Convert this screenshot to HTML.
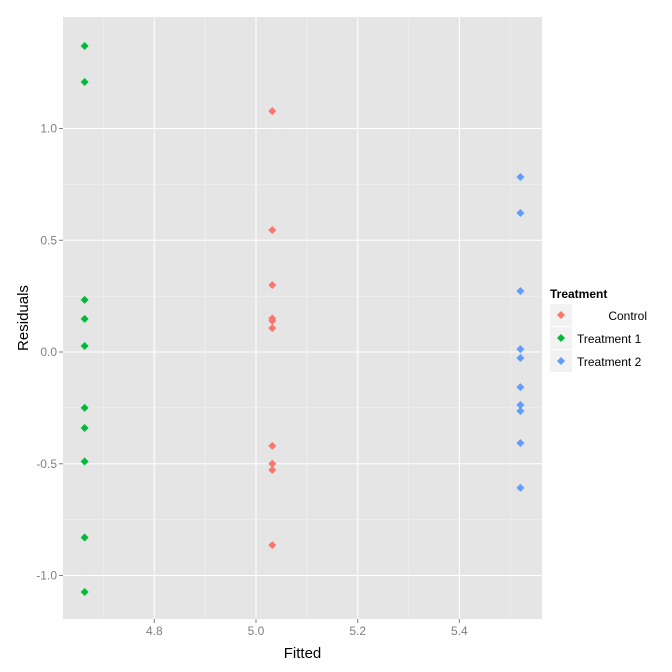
<!DOCTYPE html>
<html><head><meta charset="utf-8"><style>
body{margin:0;background:#fff;}
svg{display:block;font-family:"Liberation Sans",Arial,sans-serif;}
</style></head><body>
<svg id="chart" width="672" height="672" viewBox="0 0 672 672"></svg>
<script>
const xTicks=[4.8,5.0,5.2,5.4];
const xTickLabels=["4.8","5.0","5.2","5.4"];
const yTicks=[-1.0,-0.5,0.0,0.5,1.0];
const yTickLabels=["-1.0","-0.5","0.0","0.5","1.0"];
const seriesNames=["Control","Treatment 1","Treatment 2"];
const seriesColors=["#F8766D","#00BA38","#619CFF"];
const fittedControl=5.032, fittedT1=4.663, fittedT2=5.520;
const residControl=[1.078,0.546,0.30,0.150,0.139,0.107,-0.42,-0.50,-0.528,-0.864];
const residT1=[1.369,1.208,0.233,0.148,0.027,-0.25,-0.34,-0.49,-0.83,-1.074];
const residT2=[0.783,0.622,0.273,0.013,-0.027,-0.157,-0.237,-0.264,-0.407,-0.608];

const NS="http://www.w3.org/2000/svg";
const svg=document.getElementById('chart');
const L=63,R=542,T=17,B=619;
function xs(v){return 256+(v-5.0)/0.2*101.7;}
function ys(v){return 352-v*223.5;}
function mk(tag,attrs,parent){const e=document.createElementNS(NS,tag);for(const k in attrs)e.setAttribute(k,attrs[k]);(parent||svg).appendChild(e);return e;}

const panel=mk('rect',{x:L,y:T,width:R-L,height:B-T,fill:'#E5E5E5'});


for(let i=0;i<xTicks.length-1;i++){const v=(xTicks[i]+xTicks[i+1])/2;const g=mk('line',{x1:xs(v),x2:xs(v),y1:T,y2:B,stroke:'#F2F2F2','stroke-width':0.6});}
for(const v of [4.7,5.5]){const g=mk('line',{x1:xs(v),x2:xs(v),y1:T,y2:B,stroke:'#F2F2F2','stroke-width':0.6});}
for(let i=0;i<yTicks.length-1;i++){const v=(yTicks[i]+yTicks[i+1])/2;const g=mk('line',{x1:L,x2:R,y1:ys(v),y2:ys(v),stroke:'#F2F2F2','stroke-width':0.6});}
xTicks.forEach((v,i)=>{
 const g=mk('line',{x1:xs(v),x2:xs(v),y1:T,y2:B,stroke:'#fff','stroke-width':1.1});
 const t=mk('line',{x1:xs(v),x2:xs(v),y1:B,y2:B+4,stroke:'#7F7F7F'});
 const l=mk('text',{x:xs(v),y:B+16,'text-anchor':'middle','font-size':12,fill:'#7F7F7F'});l.textContent=xTickLabels[i];
});
yTicks.forEach((v,i)=>{
 const g=mk('line',{x1:L,x2:R,y1:ys(v),y2:ys(v),stroke:'#fff','stroke-width':1.1});
 const t=mk('line',{x1:L-4,x2:L,y1:ys(v),y2:ys(v),stroke:'#7F7F7F'});
 const l=mk('text',{x:L-6,y:ys(v)+4,'text-anchor':'end','font-size':12,fill:'#7F7F7F'});l.textContent=yTickLabels[i];
});
function pt(cx,cy,color){return mk('polygon',{points:`${cx},${cy-4} ${cx+4},${cy} ${cx},${cy+4} ${cx-4},${cy}`,fill:color});}
[[fittedControl,residControl,0],[fittedT1,residT1,1],[fittedT2,residT2,2]].forEach(([f,arr,k])=>{
 arr.forEach(r=>{const p=pt(xs(f),ys(r),seriesColors[k]);
 
 });
});
const xt=mk('text',{x:(L+R)/2,y:658,'text-anchor':'middle','font-size':15,fill:'#000'});xt.textContent='Fitted';

const yt=mk('text',{x:28,y:(T+B)/2,'text-anchor':'middle','font-size':15,fill:'#000',transform:`rotate(-90 28 ${(T+B)/2})`});yt.textContent='Residuals';

const lt=mk('text',{x:550,y:298,'font-size':12,'font-weight':'bold',fill:'#000'});lt.textContent='Treatment';

seriesNames.forEach((n,i)=>{
 const y0=304+i*23;
 const g=mk('g',{});
 mk('rect',{x:550,y:y0,width:22,height:22,fill:'#F2F2F2'},g);
 pt(561,y0+11,seriesColors[i]);
 const anchorEnd=(i===0);
 const t=mk('text',{x:anchorEnd?647:577,y:y0+16,'text-anchor':anchorEnd?'end':'start','font-size':12,fill:'#000'},g);t.textContent=n;
});
</script>
</body></html>
